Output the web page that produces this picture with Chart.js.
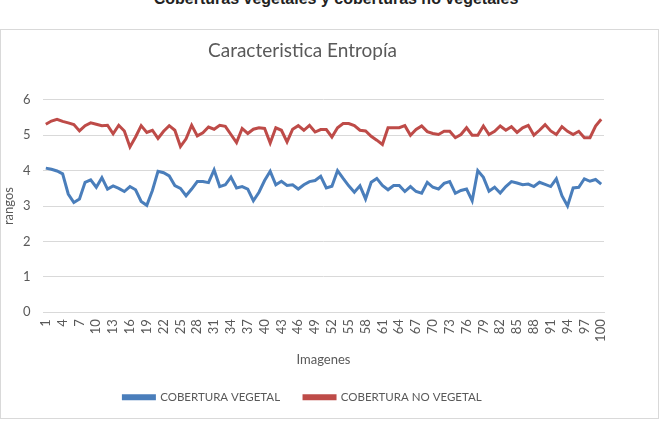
<!DOCTYPE html>
<html>
<head>
<meta charset="utf-8">
<script src="https://cdn.jsdelivr.net/npm/chart.js@4"></script>
<style>
  html, body { margin: 0; padding: 0; background: #fff; width: 659px; height: 432px; overflow: hidden; }
  #top { position: absolute; left: 0; width: 672px; top: -10px; text-align: center;
         font: bold 16px "Liberation Sans", Arial, sans-serif; color: #222; line-height: 18px; white-space: nowrap; }
  #frame { position: absolute; left: 0; top: 29px; width: 657px; height: 388px; border: 1px solid #d9d9d9; }
  #frame canvas { display: block; }
</style>
</head>
<body>
<div id="top">Coberturas vegetales y coberturas no vegetales</div>
<div id="frame"><canvas id="c" width="657" height="388"></canvas></div>
<script>
const categories = Array.from({length: 100}, (_, i) => String(i + 1));
const coberturaVegetal = [
  4.07, 4.04, 3.99, 3.91, 3.34, 3.10, 3.20, 3.67, 3.74, 3.53,
  3.80, 3.48, 3.57, 3.50, 3.41, 3.55, 3.46, 3.13, 3.02, 3.44,
  3.98, 3.94, 3.85, 3.58, 3.50, 3.29, 3.48, 3.69, 3.69, 3.66,
  4.02, 3.55, 3.60, 3.82, 3.51, 3.55, 3.48, 3.15, 3.39, 3.72,
  3.98, 3.60, 3.70, 3.58, 3.60, 3.48, 3.60, 3.69, 3.72, 3.84,
  3.51, 3.56, 4.00, 3.78, 3.57, 3.39, 3.57, 3.20, 3.67, 3.78,
  3.58, 3.46, 3.58, 3.58, 3.41, 3.55, 3.41, 3.36, 3.67, 3.53,
  3.48, 3.64, 3.69, 3.36, 3.44, 3.48, 3.15, 4.00, 3.81, 3.42,
  3.53, 3.37, 3.55, 3.69, 3.65, 3.60, 3.62, 3.55, 3.67, 3.61,
  3.55, 3.77, 3.29, 3.00, 3.51, 3.53, 3.77, 3.70, 3.75, 3.62
];
const coberturaNoVegetal = [
  5.31, 5.40, 5.45, 5.39, 5.35, 5.30, 5.12, 5.27, 5.35, 5.31,
  5.27, 5.28, 5.04, 5.28, 5.12, 4.67, 4.95, 5.27, 5.08, 5.14,
  4.91, 5.11, 5.27, 5.14, 4.68, 4.90, 5.28, 4.98, 5.07, 5.23,
  5.17, 5.28, 5.25, 5.02, 4.79, 5.19, 5.05, 5.17, 5.21, 5.19,
  4.78, 5.21, 5.14, 4.81, 5.17, 5.27, 5.14, 5.28, 5.09, 5.16,
  5.16, 4.95, 5.21, 5.33, 5.33, 5.27, 5.14, 5.12, 4.97, 4.86,
  4.74, 5.21, 5.21, 5.21, 5.27, 5.00, 5.16, 5.26, 5.10, 5.05,
  5.02, 5.11, 5.11, 4.93, 5.02, 5.21, 5.00, 5.00, 5.26, 5.02,
  5.11, 5.26, 5.14, 5.24, 5.08, 5.21, 5.28, 5.00, 5.14, 5.30,
  5.12, 5.02, 5.24, 5.11, 5.02, 5.11, 4.93, 4.93, 5.26, 5.45
];
const yTicks = [0, 1, 2, 3, 4, 5, 6];

const FONT = "Lato, 'Open Sans', sans-serif";
const GREY = '#595959';

new Chart(document.getElementById('c'), {
  type: 'line',
  data: {
    labels: categories,
    datasets: [
      { label: 'COBERTURA VEGETAL', data: coberturaVegetal, borderColor: '#4a7ebb', backgroundColor: '#4a7ebb',
        borderWidth: 3, pointRadius: 0, tension: 0, fill: false },
      { label: 'COBERTURA NO VEGETAL', data: coberturaNoVegetal, borderColor: '#be4b48', backgroundColor: '#be4b48',
        borderWidth: 3, pointRadius: 0, tension: 0, fill: false }
    ]
  },
  options: {
    responsive: false,
    animation: false,
    layout: { padding: { left: 0, right: 54, top: 1, bottom: 5 } },
    plugins: {
      title: { display: true, text: 'Caracteristica Entropía', color: GREY,
               font: { family: FONT, size: 19, weight: 'normal' }, padding: { top: 8, bottom: 38 } },
      legend: { position: 'bottom', labels: { color: GREY, font: { family: FONT, size: 11.5 },
               boxWidth: 31, boxHeight: 3, padding: 24 } },
      tooltip: { enabled: false }
    },
    scales: {
      x: {
        offset: true,
        grid: { display: false, drawTicks: false },
        border: { color: '#d9d9d9' },
        ticks: { color: GREY, font: { family: FONT, size: 13 }, autoSkip: false, maxRotation: 90, minRotation: 90,
                 padding: 7,
                 callback: function(v, i) { return i % 3 === 0 ? categories[i] : ''; } },
        title: { display: true, text: 'Imagenes', color: GREY, font: { family: FONT, size: 13 }, padding: { top: 3, bottom: 0 } }
      },
      y: {
        min: 0, max: 6,
        afterBuildTicks: (s) => { s.ticks = yTicks.map(v => ({ value: v })); },
        afterFit: (s) => { s.width = 42; },
        grid: { color: '#d9d9d9', drawTicks: false },
        border: { display: false },
        ticks: { color: GREY, font: { family: FONT, size: 13 }, padding: 12.5 },
        title: { display: true, text: 'rangos', color: GREY, font: { family: FONT, size: 13, lineHeight: 1 }, padding: { top: 1, bottom: 0 } }
      }
    }
  }
});
</script>
</body>
</html>
